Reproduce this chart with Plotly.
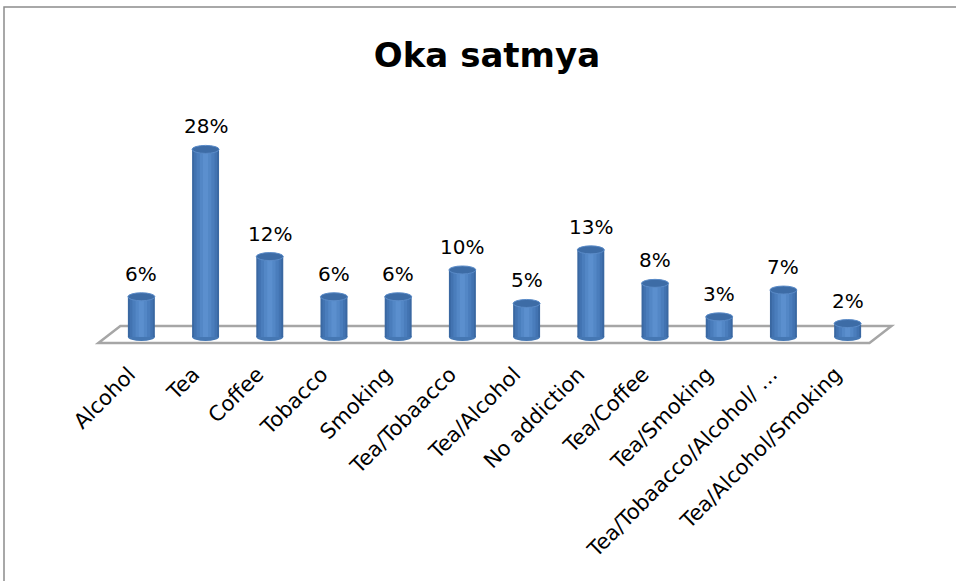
import plotly.graph_objects as go

categories = ["Alcohol", "Tea", "Coffee", "Tobacco", "Smoking", "Tea/Tobaacco",
              "Tea/Alcohol", "No addiction", "Tea/Coffee", "Tea/Smoking",
              "Tea/Tobaacco/Alcohol/ …", "Tea/Alcohol/Smoking"]
percent = [6, 28, 12, 6, 6, 10, 5, 13, 8, 3, 7, 2]

W, H = 956, 581
n = len(categories)
X_MIN, X_MAX = -0.8, n - 0.2
Y_MIN, Y_MAX = -1.5, 30
STEP = 64.2                           # pixels per category
L = round(141 - (0 - X_MIN) * STEP)
R = W - round(141 + X_MAX * STEP)
T, B = 136, 234
pw = W - L - R
ph = H - T - B
px_x = (X_MAX - X_MIN) / pw          # data units per pixel (x)
px_y = (Y_MAX - Y_MIN) / ph          # data units per pixel (y)

idx = list(range(n))
fig = go.Figure()

# cylinder body built from overlaid bars, darker at the edges
shades = [(0.42, "#3A68A2"), (0.36, "#4273B1"), (0.28, "#4A7DBC"),
          (0.18, "#5387C6"), (0.08, "#5B8FCE")]
for w, c in shades:
    fig.add_trace(go.Bar(x=idx, y=percent, width=w, marker_color=c,
                         marker_line_width=0, hoverinfo="skip",
                         showlegend=False))

shapes = []
# floor
fx0, fx1 = -0.67, n - 1 + 0.34
dx = 22 * px_x
fy0, fy1 = -6 * px_y, 11 * px_y
shapes.append(dict(type="path", xref="x", yref="y", layer="below",
                   path=f"M {fx0},{fy0} L {fx1},{fy0} L {fx1+dx},{fy1} L {fx0+dx},{fy1} Z",
                   line=dict(color="#A6A6A6", width=2.5), fillcolor="white"))
eh = 4 * px_y
for i, v in zip(idx, percent):
    # rounded bottom
    shapes.append(dict(type="circle", xref="x", yref="y", layer="below",
                       x0=i - 0.21, x1=i + 0.21, y0=-eh, y1=eh,
                       fillcolor="#4577B3", line_width=0))
    # top ellipse
    shapes.append(dict(type="circle", xref="x", yref="y",
                       x0=i - 0.21, x1=i + 0.21, y0=v - eh, y1=v + eh,
                       fillcolor="#3D6CA6", line=dict(color="#5A8BC8", width=1)))

# chart border (left and top only visible)
shapes.append(dict(type="rect", xref="paper", yref="paper",
                   x0=(4 - L) / pw, x1=(W + 20 - L) / pw,
                   y0=-(H + 20 - T - ph) / ph, y1=(H - 7 - B) / ph,
                   line=dict(color="#8C8C8C", width=1.5), fillcolor="rgba(0,0,0,0)",
                   layer="below"))

annotations = [dict(x=i, y=v, text=f"{v}%", showarrow=False, yanchor="bottom",
                    yshift=9, font=dict(size=20, color="black"))
               for i, v in zip(idx, percent)]

fig.update_layout(
    width=W, height=H,
    margin=dict(l=L, r=R, t=T, b=B),
    barmode="overlay",
    plot_bgcolor="white", paper_bgcolor="white",
    font=dict(family="'DejaVu Sans', sans-serif", color="black"),
    title=dict(text="<b>Oka satmya</b>", x=(487 - L) / pw, xref="paper",
               y=1 - 55 / H, yref="container", xanchor="center", yanchor="middle",
               font=dict(size=34, color="black")),
    shapes=shapes,
    annotations=annotations,
    showlegend=False,
)
# labels end slightly left of the column centre, as in the original
fig.update_xaxes(tickmode="array", tickvals=[i - 0.19 for i in idx], ticktext=categories,
                 range=[X_MIN, X_MAX], tickangle=-45, showgrid=False,
                 showline=False, zeroline=False, ticks="", automargin=False,
                 tickfont=dict(size=21, color="black"), ticklabelstandoff=10)
fig.update_yaxes(range=[Y_MIN, Y_MAX], visible=False, showgrid=False)

fig.write_html("out.html", config={"displayModeBar": False},
               post_script="document.body.style.margin='0px';")
